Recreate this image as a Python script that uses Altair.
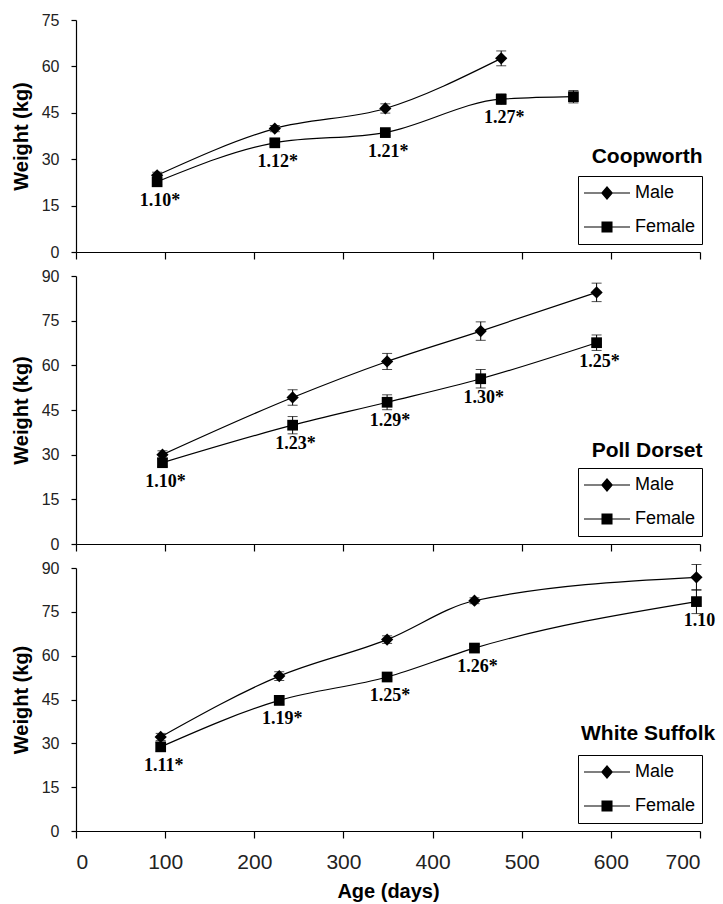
import altair as alt
import pandas as pd

FONT = "Liberation Sans"
SERIF = "Liberation Serif"

sexes = ["Male", "Female"]
x_ticks = [0, 100, 200, 300, 400, 500, 600, 700]

# Coopworth
coop_male_age = [91, 223, 347, 477]
coop_male_wt = [24.8, 39.9, 46.4, 62.6]
coop_male_se = [1.0, 1.0, 1.5, 2.4]
coop_female_age = [91, 223, 347, 477, 558]
coop_female_wt = [22.7, 35.3, 38.6, 49.4, 50.2]
coop_female_se = [1.0, 1.0, 1.0, 1.7, 2.0]
coop_ratio = ["1.10*", "1.12*", "1.21*", "1.27*", ""]

# Poll Dorset
pd_age = [97, 243, 349, 454, 584]
pd_male_wt = [30.0, 49.2, 61.3, 71.5, 84.5]
pd_male_se = [1.3, 2.6, 2.7, 3.1, 3.1]
pd_female_wt = [27.3, 39.9, 47.6, 55.5, 67.6]
pd_female_se = [1.2, 2.9, 2.5, 3.1, 2.6]
pd_ratio = ["1.10*", "1.23*", "1.29*", "1.30*", "1.25*"]

# White Suffolk
ws_age = [95, 228, 349, 447, 696]
ws_male_wt = [32.2, 53.0, 65.5, 78.8, 86.8]
ws_male_se = [1.2, 1.5, 1.3, 1.0, 4.4]
ws_female_wt = [28.8, 44.7, 52.7, 62.6, 78.5]
ws_female_se = [1.5, 1.5, 1.0, 1.2, 4.1]
ws_ratio = ["1.11*", "1.19*", "1.25*", "1.26*", "1.10"]

# legend glyphs: a thin bar (line) plus the marker, as one filled path
MALE_PATH = "M-1,-0.025L1,-0.025L1,0.025L-1,0.025Z M0,-0.3L0.26,0L0,0.3L-0.26,0Z"
FEMALE_PATH = "M-1,-0.025L1,-0.025L1,0.025L-1,0.025Z M-0.24,-0.24L0.24,-0.24L0.24,0.24L-0.24,0.24Z"


def make_df(m_age, m_wt, m_se, f_age, f_wt, f_se, ratio):
    rows = []
    for a, w, s in zip(m_age, m_wt, m_se):
        rows.append({"sex": "Male", "age": a, "wt": w, "lo": w - s, "hi": w + s, "ratio": ""})
    for a, w, s, r in zip(f_age, f_wt, f_se, ratio):
        rows.append({"sex": "Female", "age": a, "wt": w, "lo": w - s, "hi": w + s, "ratio": r})
    return pd.DataFrame(rows)


def panel(name, df, ymax, height, legend_y, title_offset, show_x):
    if show_x:
        xaxis = alt.Axis(values=x_ticks, title="Age (days)", labelFontSize=21,
                         labelPadding=13, titlePadding=9, tickSize=7)
    else:
        xaxis = alt.Axis(values=x_ticks, labels=False, title=None, tickSize=7)
    x = alt.X("age:Q", scale=alt.Scale(domain=[0, 700], nice=False), axis=xaxis)
    y = alt.Y("wt:Q", scale=alt.Scale(domain=[0, ymax], nice=False),
              axis=alt.Axis(values=list(range(0, ymax + 1, 15)), title="Weight (kg)",
                            tickSize=5, labelPadding=12, titlePadding=10))
    base = alt.Chart(df)
    line = base.mark_line(interpolate="monotone", color="black", strokeWidth=1.2).encode(
        x=x, y=y, detail="sex:N")
    rule = base.mark_rule(color="black", strokeWidth=1).encode(x=x, y="lo:Q", y2="hi:Q")
    cap_lo = base.mark_tick(orient="horizontal", size=10, thickness=1, color="black").encode(
        x=x, y="lo:Q")
    cap_hi = base.mark_tick(orient="horizontal", size=10, thickness=1, color="black").encode(
        x=x, y="hi:Q")
    pts = base.mark_point(filled=True, color="black", opacity=1).encode(
        x=x, y=y,
        shape=alt.Shape("sex:N", scale=alt.Scale(domain=sexes, range=["diamond", "square"]), legend=None),
        size=alt.Size("sex:N", scale=alt.Scale(domain=sexes, range=[150, 115]), legend=None),
    )
    labels = base.transform_filter("datum.ratio != ''").mark_text(
        dy=19, dx=3, font=SERIF, fontWeight="bold", fontSize=18, color="black",
        baseline="middle").encode(x=x, y=y, text="ratio:N")
    leg = base.transform_filter("false").mark_point(
        filled=True, fill="black", stroke="black", strokeWidth=1.2, opacity=1).encode(
        x=x, y=y,
        shape=alt.Shape("sex:N", scale=alt.Scale(domain=sexes, range=[MALE_PATH, FEMALE_PATH]),
                        legend=alt.Legend(orient="none", legendX=502, legendY=legend_y, title=None,
                                          strokeColor="black", fillColor="white", padding=6,
                                          symbolSize=2116, symbolStrokeWidth=0,
                                          symbolStrokeColor="black", symbolFillColor="black",
                                          clipHeight=22, rowPadding=12, labelFont=FONT,
                                          labelFontSize=18, labelColor="black", labelOffset=5,
                                          direction="vertical")),
    )
    return alt.layer(line, rule, cap_lo, cap_hi, pts, labels, leg).resolve_scale(
        shape="independent").properties(
        width=624, height=height,
        title=alt.TitleParams(name, anchor="end", orient="top", offset=title_offset,
                              font=FONT, fontSize=21, fontWeight="bold", color="black"))


p1 = panel("Coopworth", make_df(coop_male_age, coop_male_wt, coop_male_se,
                                coop_female_age, coop_female_wt, coop_female_se, coop_ratio),
           75, 232, 156, -155, False)
p2 = panel("Poll Dorset", make_df(pd_age, pd_male_wt, pd_male_se,
                                  pd_age, pd_female_wt, pd_female_se, pd_ratio),
           90, 268, 192, -193, False)
p3 = panel("White Suffolk", make_df(ws_age, ws_male_wt, ws_male_se,
                                    ws_age, ws_female_wt, ws_female_se, ws_ratio),
           90, 263, 187, -184, True)

chart = alt.vconcat(p1, p2, p3, spacing=24, bounds="flush").resolve_scale(
    shape="independent", size="independent").resolve_legend(shape="independent").configure_view(
    stroke=None).configure_axis(
    grid=False, domainColor="black", tickColor="black", labelColor="#222",
    labelFont=FONT, labelFontSize=16, titleFont=FONT, titleFontSize=20,
    titleFontWeight="bold", titleColor="black", domainWidth=1.2, tickWidth=1.2).properties(
    padding={"left": 11, "top": 12, "right": 5, "bottom": 2}, background="white")

chart.save("out.html", embed_options={"renderer": "svg", "actions": False})
